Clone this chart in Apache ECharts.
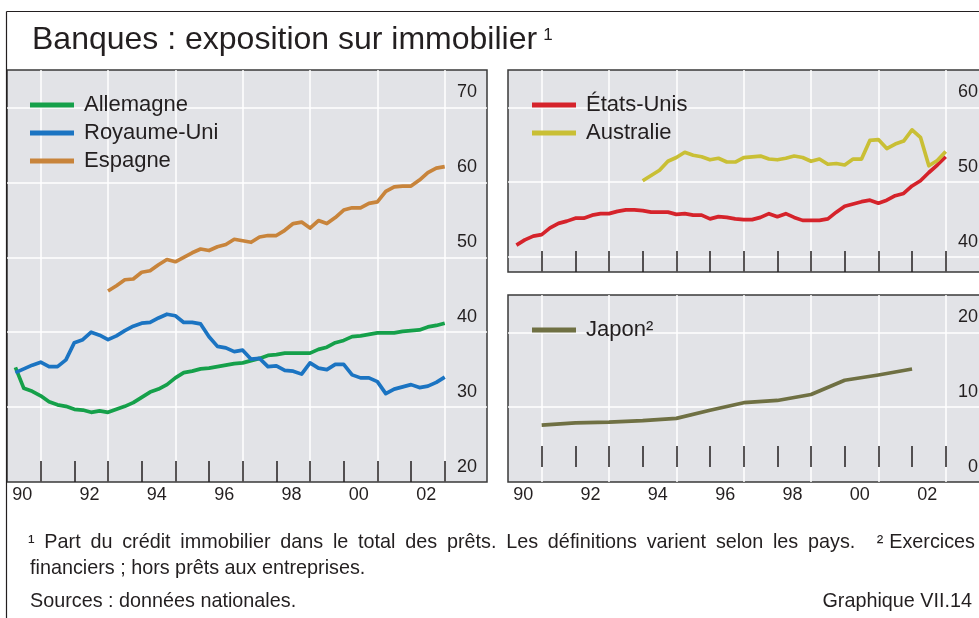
<!DOCTYPE html>
<html>
<head>
<meta charset="utf-8">
<script src="https://cdn.jsdelivr.net/npm/echarts@6/dist/echarts.min.js"></script>
<style>
html,body{margin:0;padding:0;background:#fff;overflow:hidden}
#c{width:1000px;height:618px}
</style>
</head>
<body>
<div id="c"></div>
<script>
// ---------- text ----------
const FONT = '"Liberation Sans", Arial, Helvetica, sans-serif';
const titleText = 'Banques : exposition sur immobilier';
const titleSup = '1';
const note1Main = '¹ Part du crédit immobilier dans le total des prêts. Les définitions varient selon les pays.';
const note1Tail = '² Exercices';
const note2 = 'financiers ; hors prêts aux entreprises.';
const sourcesText = 'Sources : données nationales.';
const graphNo = 'Graphique VII.14';

// ---------- axes ----------
const xTickLabels = ['90', '92', '94', '96', '98', '00', '02'];
const xLabelYears = [1990, 1992, 1994, 1996, 1998, 2000, 2002];
const yearTicks = [1991, 1992, 1993, 1994, 1995, 1996, 1997, 1998, 1999, 2000, 2001, 2002, 2003];
const gridYears = [1991, 1993, 1995, 1997, 1999, 2001, 2003];
const leftYLabels = [20, 30, 40, 50, 60, 70];
const leftYGrid = [28, 38, 48, 58, 68];
const topRightYLabels = [40, 50, 60];
const topRightYGrid = [38, 48, 58];
const botRightYLabels = [0, 10, 20];
const botRightYGrid = [8, 18];

// ---------- series names ----------
const names = ['Allemagne', 'Royaume-Uni', 'Espagne', 'États-Unis', 'Australie', 'Japon²'];

// ---------- data (quarterly unless noted) ----------
const allemagneStart = 1990.25;
const allemagne = [33.3, 30.5, 30.1, 29.5, 28.7, 28.3, 28.1, 27.7, 27.6, 27.3, 27.5, 27.3, 27.7, 28.1, 28.6, 29.3,
  30.0, 30.4, 31.0, 31.9, 32.6, 32.8, 33.1, 33.2, 33.4, 33.6, 33.8, 33.9, 34.2, 34.5, 34.9, 35.0,
  35.2, 35.2, 35.2, 35.2, 35.7, 36.0, 36.6, 36.9, 37.4, 37.5, 37.7, 37.9, 37.9, 37.9, 38.1, 38.2,
  38.3, 38.7, 38.9, 39.2];
const royaumeUniStart = 1990.25;
const royaumeUni = [32.6, 33.1, 33.6, 34.0, 33.4, 33.4, 34.3, 36.6, 37.0, 38.0, 37.6, 37.0, 37.5, 38.2, 38.8, 39.2,
  39.3, 39.9, 40.4, 40.2, 39.3, 39.3, 39.1, 37.4, 36.1, 35.9, 35.4, 35.6, 34.4, 34.5, 33.4, 33.5,
  32.9, 32.8, 32.4, 33.9, 33.2, 33.0, 33.7, 33.7, 32.3, 31.9, 31.9, 31.4, 29.8, 30.4, 30.7, 31.0,
  30.6, 30.8, 31.3, 32.0];
const espagneStart = 1993.0;
const espagne = [43.5, 44.2, 45.0, 45.1, 46.0, 46.2, 47.0, 47.7, 47.4, 48.0, 48.6, 49.1, 48.9, 49.4, 49.7, 50.4,
  50.2, 50.0, 50.7, 50.9, 50.9, 51.6, 52.5, 52.7, 51.9, 52.9, 52.5, 53.3, 54.3, 54.6, 54.6, 55.2,
  55.4, 56.8, 57.4, 57.5, 57.5, 58.3, 59.3, 59.9, 60.1];
const etatsUnisStart = 1990.25;
const etatsUnis = [39.6, 40.3, 40.8, 41.0, 41.9, 42.5, 42.8, 43.2, 43.2, 43.6, 43.8, 43.8, 44.1, 44.3, 44.3, 44.2,
  44.0, 44.0, 44.0, 43.7, 43.8, 43.6, 43.6, 43.1, 43.4, 43.3, 43.1, 43.0, 43.0, 43.3, 43.8, 43.4,
  43.8, 43.3, 42.9, 42.9, 42.9, 43.1, 44.0, 44.8, 45.1, 45.4, 45.6, 45.2, 45.6, 46.2, 46.5, 47.5,
  48.2, 49.3, 50.3, 51.4];
const australieStart = 1994.0;
const australie = [48.2, 48.9, 49.6, 50.8, 51.3, 52.0, 51.6, 51.4, 51.0, 51.2, 50.7, 50.7, 51.3, 51.4, 51.5, 51.1,
  51.0, 51.2, 51.5, 51.3, 50.8, 51.1, 50.4, 50.5, 50.3, 51.1, 51.1, 53.6, 53.7, 52.5, 53.1, 53.5,
  55.0, 54.0, 50.2, 50.9, 52.1];
// Japan: annual (fiscal years)
const japonYears = [1991, 1992, 1993, 1994, 1995, 1996, 1997, 1998, 1999, 2000, 2001, 2002];
const japon = [5.6, 5.9, 6.0, 6.2, 6.5, 7.6, 8.6, 8.9, 9.7, 11.6, 12.3, 13.1];

const colors = ['#15a04a', '#1b74c2', '#c8843b', '#d5232b', '#c9bf35', '#6f7043'];

// ---------- helpers ----------
function quarterly(start, vals) {
  return vals.map((v, i) => [start + i * 0.25, v]);
}
function annual(years, vals) {
  return vals.map((v, i) => [years[i], v]);
}

const XMIN = 1990, XMAX = 2004.256;
const TXT = '#231f20';

const grids = [
  { left: 7, top: 70, width: 480, height: 412 },
  { left: 508, top: 70, width: 480, height: 202 },
  { left: 508, top: 295, width: 480, height: 187 }
].map(g => Object.assign(g, {
  show: true, backgroundColor: '#e2e3e7', borderColor: '#3a3a3a', borderWidth: 1.5, containLabel: false
}));

const yRanges = [
  { min: 18, max: 73, labels: leftYLabels, grid: leftYGrid },
  { min: 36, max: 63, labels: topRightYLabels, grid: topRightYGrid },
  { min: -2, max: 23, labels: botRightYLabels, grid: botRightYGrid }
];

const xAxes = [];
const yAxes = [];
for (let i = 0; i < 3; i++) {
  xAxes.push({
    gridIndex: i, type: 'value', min: XMIN, max: XMAX, position: 'bottom',
    axisLine: { show: false },
    splitLine: { show: false },
    axisTick: { show: true, inside: true, length: 21, customValues: yearTicks,
      lineStyle: { color: TXT, width: 1.5 } },
    axisLabel: {
      show: i !== 1, customValues: xLabelYears.map(y => y + 0.45), margin: 4,
      fontSize: 18, color: TXT, fontFamily: FONT,
      formatter: v => xTickLabels[xLabelYears.indexOf(Math.round(v - 0.45))]
    }
  });
  xAxes.push({
    gridIndex: i, type: 'value', min: XMIN, max: XMAX, position: 'top',
    axisLine: { show: false },
    axisTick: { show: false, customValues: gridYears },
    axisLabel: { show: false },
    splitLine: { show: true, lineStyle: { color: '#ffffff', width: 1.5 } }
  });
  const r = yRanges[i];
  yAxes.push({
    gridIndex: i, type: 'value', min: r.min, max: r.max, position: 'right',
    axisLine: { show: false },
    axisTick: { show: false, customValues: r.grid },
    axisLabel: { inside: true, customValues: r.labels, margin: 10, fontSize: 18, color: TXT, fontFamily: FONT },
    splitLine: { show: true, lineStyle: { color: '#ffffff', width: 1.5 } }
  });
}

function lineSeries(name, data, color, gi) {
  return {
    name, type: 'line', data, xAxisIndex: gi * 2, yAxisIndex: gi,
    showSymbol: false, symbol: 'none', smooth: false, z: 5,
    lineStyle: { color, width: 3.7, join: 'round' }, itemStyle: { color },
    emphasis: { disabled: true }
  };
}

const series = [
  lineSeries(names[0], quarterly(allemagneStart, allemagne), colors[0], 0),
  lineSeries(names[1], quarterly(royaumeUniStart, royaumeUni), colors[1], 0),
  lineSeries(names[2], quarterly(espagneStart, espagne), colors[2], 0),
  lineSeries(names[3], quarterly(etatsUnisStart, etatsUnis), colors[3], 1),
  lineSeries(names[4], quarterly(australieStart, australie), colors[4], 1),
  lineSeries(names[5], annual(japonYears, japon), colors[5], 2)
];

const legendBase = {
  orient: 'vertical', icon: 'rect', itemWidth: 44, itemHeight: 5, itemGap: 6, padding: 0,
  selectedMode: false,
  textStyle: { fontSize: 22, color: TXT, fontFamily: FONT, padding: [0, 0, 0, 5], lineHeight: 22 }
};
const legends = [
  Object.assign({}, legendBase, { left: 30, top: 94, data: names.slice(0, 3) }),
  Object.assign({}, legendBase, { left: 532, top: 94, data: names.slice(3, 5) }),
  Object.assign({}, legendBase, { left: 532, top: 319, data: names.slice(5, 6) })
];

// ---------- text measurement ----------
const mctx = document.createElement('canvas').getContext('2d');
function measure(text, font) { mctx.font = font; return mctx.measureText(text).width; }

// ---------- footnote line 1, justified ----------
const NOTE_SIZE = 19.8;
const noteFont = NOTE_SIZE + 'px ' + FONT;
const mainWords = note1Main.split(' ');
const tailWords = note1Tail.split(' ');
const words = mainWords.concat(tailWords);
const gapW = words.map((w, i) => {
  if (i === mainWords.length) return 2.2;       // wider gap before footnote 2
  if (i === mainWords.length + 1) return 0.6;   // after superscript 2
  return 1;
});
const widths = words.map(w => measure(w, noteFont));
const lineL = 28, lineR = 975;
const totalGapWeight = gapW.slice(1).reduce((a, b) => a + b, 0);
const unitGap = (lineR - lineL - widths.reduce((a, b) => a + b, 0)) / totalGapWeight;
const noteEls = [];
let cx = lineL;
words.forEach((w, i) => {
  if (i > 0) cx += gapW[i] * unitGap;
  noteEls.push({ type: 'text', x: cx, y: 542.5, silent: true,
    style: { text: w, font: noteFont, fill: TXT, align: 'left', verticalAlign: 'middle',
      textAlign: 'left', textVerticalAlign: 'middle' } });
  cx += widths[i];
});

function txt(x, y, text, size, align) {
  return { type: 'text', x, y, silent: true,
    style: { text, font: size + 'px ' + FONT, fill: TXT, align: align || 'left', verticalAlign: 'middle',
      textAlign: align || 'left', textVerticalAlign: 'middle' } };
}

const TITLE_SIZE = 32;
const titleW = measure(titleText, TITLE_SIZE + 'px ' + FONT);

const graphic = [
  { type: 'line', silent: true, shape: { x1: 6.5, y1: 11.5, x2: 1000, y2: 11.5 }, style: { stroke: TXT, lineWidth: 1.2 } },
  { type: 'line', silent: true, shape: { x1: 6.5, y1: 11.5, x2: 6.5, y2: 618 }, style: { stroke: TXT, lineWidth: 1.2 } },
  txt(32, 40, titleText, TITLE_SIZE),
  txt(32 + titleW + 6, 35.5, titleSup, 17),
  txt(30, 569, note2, NOTE_SIZE),
  txt(30, 601.5, sourcesText, NOTE_SIZE),
  txt(972, 601.5, graphNo, NOTE_SIZE, 'right')
].concat(noteEls);

const chart = echarts.init(document.getElementById('c'), null, { renderer: 'canvas' });
chart.setOption({
  animation: false,
  backgroundColor: '#ffffff',
  textStyle: { fontFamily: FONT },
  grid: grids,
  xAxis: xAxes,
  yAxis: yAxes,
  legend: legends,
  tooltip: { show: false },
  series,
  graphic
});
</script>
</body>
</html>
